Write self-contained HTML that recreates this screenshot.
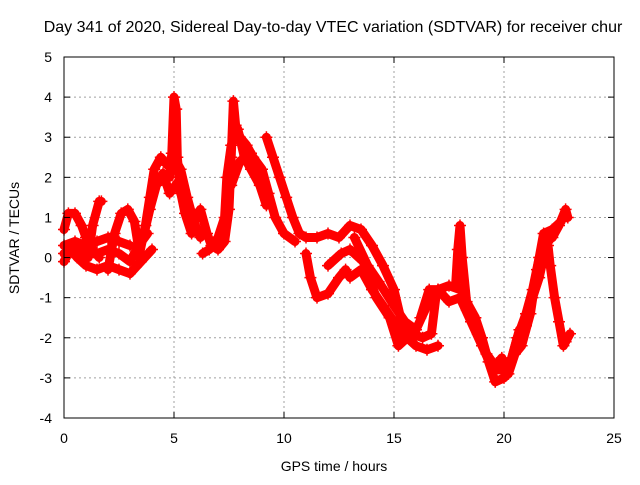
<!DOCTYPE html>
<html><head><meta charset="utf-8"><style>
body{margin:0;background:#fff;}
text{font-family:"Liberation Sans",sans-serif;font-size:14px;fill:#000;}
</style></head><body>
<svg id="chart" width="640" height="480">
<text x="333" y="32" text-anchor="middle" style="font-size:16px">Day 341 of 2020, Sidereal Day-to-day VTEC variation (SDTVAR) for receiver chur</text>
<text x="334" y="471" text-anchor="middle">GPS time / hours</text>
<text transform="translate(19,238) rotate(-90)" text-anchor="middle">SDTVAR / TECUs</text>
<g id="grid"></g><g id="series"></g><g id="axes"></g>
</svg>
<script>
const xTicks=[0,5,10,15,20,25];
const yTicks=[-4,-3,-2,-1,0,1,2,3,4,5];
const trackA=[[0,-0.1],[0.3,0.2],[0.6,0],[1,-0.2],[1.5,-0.3],[2,-0.2],[2.5,-0.3],[3,-0.4],[3.5,-0.1],[4,0.2]];
const trackB=[[0,0.7],[0.2,1.1],[0.5,1.1],[0.8,0.8],[1,0.5],[1.3,0.2],[1.6,0]];
const trackC=[[1.1,0],[1.3,0.8],[1.6,1.4],[1.7,1.4]];
const trackD=[[0,0.3],[0.5,0.4],[1,0.3],[1.5,0.4],[2,0.5],[2.5,0.4],[3,0.3]];
const trackD2=[[0,0.1],[0.5,0.2],[1,0.1],[1.5,0.1],[2,0.2],[2.5,0.1],[3,-0.1],[3.4,0.3],[3.8,0.6]];
const trackE=[[2,-0.3],[2.3,0.6],[2.6,1.1],[2.9,1.2],[3.2,0.9],[3.4,0.2]];
const trackF=[[3.4,0],[3.7,0.8],[3.9,1.5],[4.1,2.2],[4.4,2.5],[4.7,2.3],[5,2.5],[5.3,2.2],[5.6,1.5],[5.9,0.9],[6.2,0.5]];
const trackF2=[[3.6,0.5],[3.9,1.2],[4.2,1.8],[4.5,2.1],[4.8,1.6],[5.2,1.9],[5.5,1.1],[5.8,0.6]];
const trackP=[[4.8,2.0],[4.9,2.6],[5,4.0],[5.1,3.7],[5.15,2.5],[5.3,1.6]];
const trackG=[[5.8,0.8],[6.2,1.2],[6.5,0.6],[6.7,0.3],[7,0.2],[7.3,0.4],[7.5,1.2],[7.6,2.5],[7.7,3.9],[7.8,3.3],[8,3.0],[8.3,2.8],[8.6,2.5],[9,2.2],[9.3,1.6],[9.6,1.0],[10,0.6],[10.5,0.4]];
const trackG2=[[6.3,0.1],[6.6,0.2],[7,0.5],[7.3,1.0],[7.4,2.0],[7.6,2.8],[7.9,3.2],[8.2,2.5],[8.5,2.2],[8.9,1.8],[9.2,1.3]];
const trackH=[[7.6,1.8],[8,2.4],[8.5,2.6],[9,1.8],[9.3,1.4]];
const trackI=[[9.2,3.0],[9.5,2.5],[9.8,2.0],[10.1,1.5],[10.4,1.0],[10.7,0.6],[11,0.5],[11.5,0.5],[12,0.6],[12.5,0.5],[13,0.8],[13.5,0.7],[14,0.3],[14.5,-0.2],[15,-0.8],[15.3,-1.5],[15.6,-2],[16,-2.2],[16.5,-2.3],[17,-2.2]];
const trackJ=[[11,0.1],[11.2,-0.5],[11.5,-1.0],[12,-0.9],[12.5,-0.5],[12.8,-0.3],[13,-0.5],[13.5,-0.3],[14,-0.8],[14.5,-1.2],[15,-1.6],[15.5,-2.0]];
const trackK=[[13.2,0.5],[13.8,-0.2],[14.3,-0.6],[15,-1.2],[15.5,-1.6],[16,-1.8],[16.5,-1.2],[17,-0.8],[17.5,-0.7],[18,-0.8]];
const trackK2=[[12,-0.2],[12.6,0.1],[13,0.2],[13.6,-0.1],[14.2,-1.0],[14.8,-1.5],[15.2,-2.2],[15.8,-1.9],[16.3,-2.0],[16.7,-1.9],[16.9,-1.0]];
const trackL=[[17.8,-0.7],[17.9,0.2],[18,0.8],[18.1,0],[18.3,-1.1],[18.7,-1.5],[19,-2],[19.3,-2.6],[19.6,-3.1],[20,-3],[20.3,-2.6],[20.6,-2.0],[21,-1.4],[21.3,-0.8],[21.6,0],[21.9,0.4],[22.2,0.5],[22.5,0.8],[22.8,1.2],[22.9,1.0]];
const trackM=[[16.2,-1.5],[16.6,-0.8],[17,-0.8],[17.5,-1.1],[18,-1.0],[18.5,-1.6],[19,-2.2],[19.5,-2.8],[20,-2.8],[20.3,-2.6],[20.7,-1.8],[21,-1.7],[21.3,-1.0],[21.6,-0.5],[21.8,0],[22,0.3],[22.1,-0.2],[22.3,-1.0],[22.5,-1.6],[22.7,-2.2],[22.8,-2.1],[23,-1.9]];
const trackM2=[[18.3,-1.3],[18.8,-1.9],[19.2,-2.4],[19.6,-2.7],[19.9,-2.5],[20.2,-2.9],[20.5,-2.4],[20.8,-2.2],[21.2,-1.4],[21.5,-0.3],[21.8,0.6],[22.2,0.7],[22.6,0.9]];
const tracks=[trackA,trackB,trackC,trackD,trackD2,trackE,trackF,trackF2,trackP,trackG,trackG2,trackH,trackI,trackJ,trackK,trackK2,trackL,trackM,trackM2];

const X0=64,X1=614,Y0=418,Y1=57;
const xs=t=>X0+(t-0)/25*(X1-X0);
const ys=v=>Y0-(v+4)/9*(Y0-Y1);
const NS='http://www.w3.org/2000/svg';
function mk(tag,attrs,parent){const e=document.createElementNS(NS,tag);for(const k in attrs)e.setAttribute(k,attrs[k]);parent.appendChild(e);return e;}
const grid=document.getElementById('grid'),axes=document.getElementById('axes'),ser=document.getElementById('series');
xTicks.forEach(t=>{
 if(t>0&&t<25){const g=mk('line',{x1:xs(t),x2:xs(t),y1:Y0,y2:Y1,stroke:'#a0a0a0','stroke-dasharray':'2,3'},grid);
 
 }
 const tx=mk('text',{x:xs(t),y:443,'text-anchor':'middle'},axes);tx.textContent=t;
 
 
 mk('line',{x1:xs(t),x2:xs(t),y1:Y0,y2:Y0-6,stroke:'#000'},axes);
 mk('line',{x1:xs(t),x2:xs(t),y1:Y1,y2:Y1+6,stroke:'#000'},axes);
});
yTicks.forEach(v=>{
 if(v>-4&&v<5){const g=mk('line',{x1:X0,x2:X1,y1:ys(v),y2:ys(v),stroke:'#a0a0a0','stroke-dasharray':'2,3'},grid);
 
 }
 const tx=mk('text',{x:52,y:ys(v)+5,'text-anchor':'end'},axes);tx.textContent=v;
 
 
 mk('line',{x1:X0,x2:X0+6,y1:ys(v),y2:ys(v),stroke:'#000'},axes);
 mk('line',{x1:X1,x2:X1-6,y1:ys(v),y2:ys(v),stroke:'#000'},axes);
});
const fr=mk('rect',{x:X0,y:Y1,width:X1-X0,height:Y0-Y1,fill:'none',stroke:'#000'},axes);


tracks.forEach(tr=>{
 const p=mk('polyline',{points:tr.map(d=>xs(d[0])+','+ys(d[1])).join(' '),fill:'none',stroke:'#ff0000','stroke-width':9,'stroke-linejoin':'round','stroke-linecap':'round'},ser);
 
 
 tr.forEach(d=>{
  const m=mk('path',{d:`M${xs(d[0])-6},${ys(d[1])}h12M${xs(d[0])},${ys(d[1])-6}v12`,stroke:'#ff0000','stroke-width':1.5},ser);
  
  
 });
});
</script>
</body></html>
